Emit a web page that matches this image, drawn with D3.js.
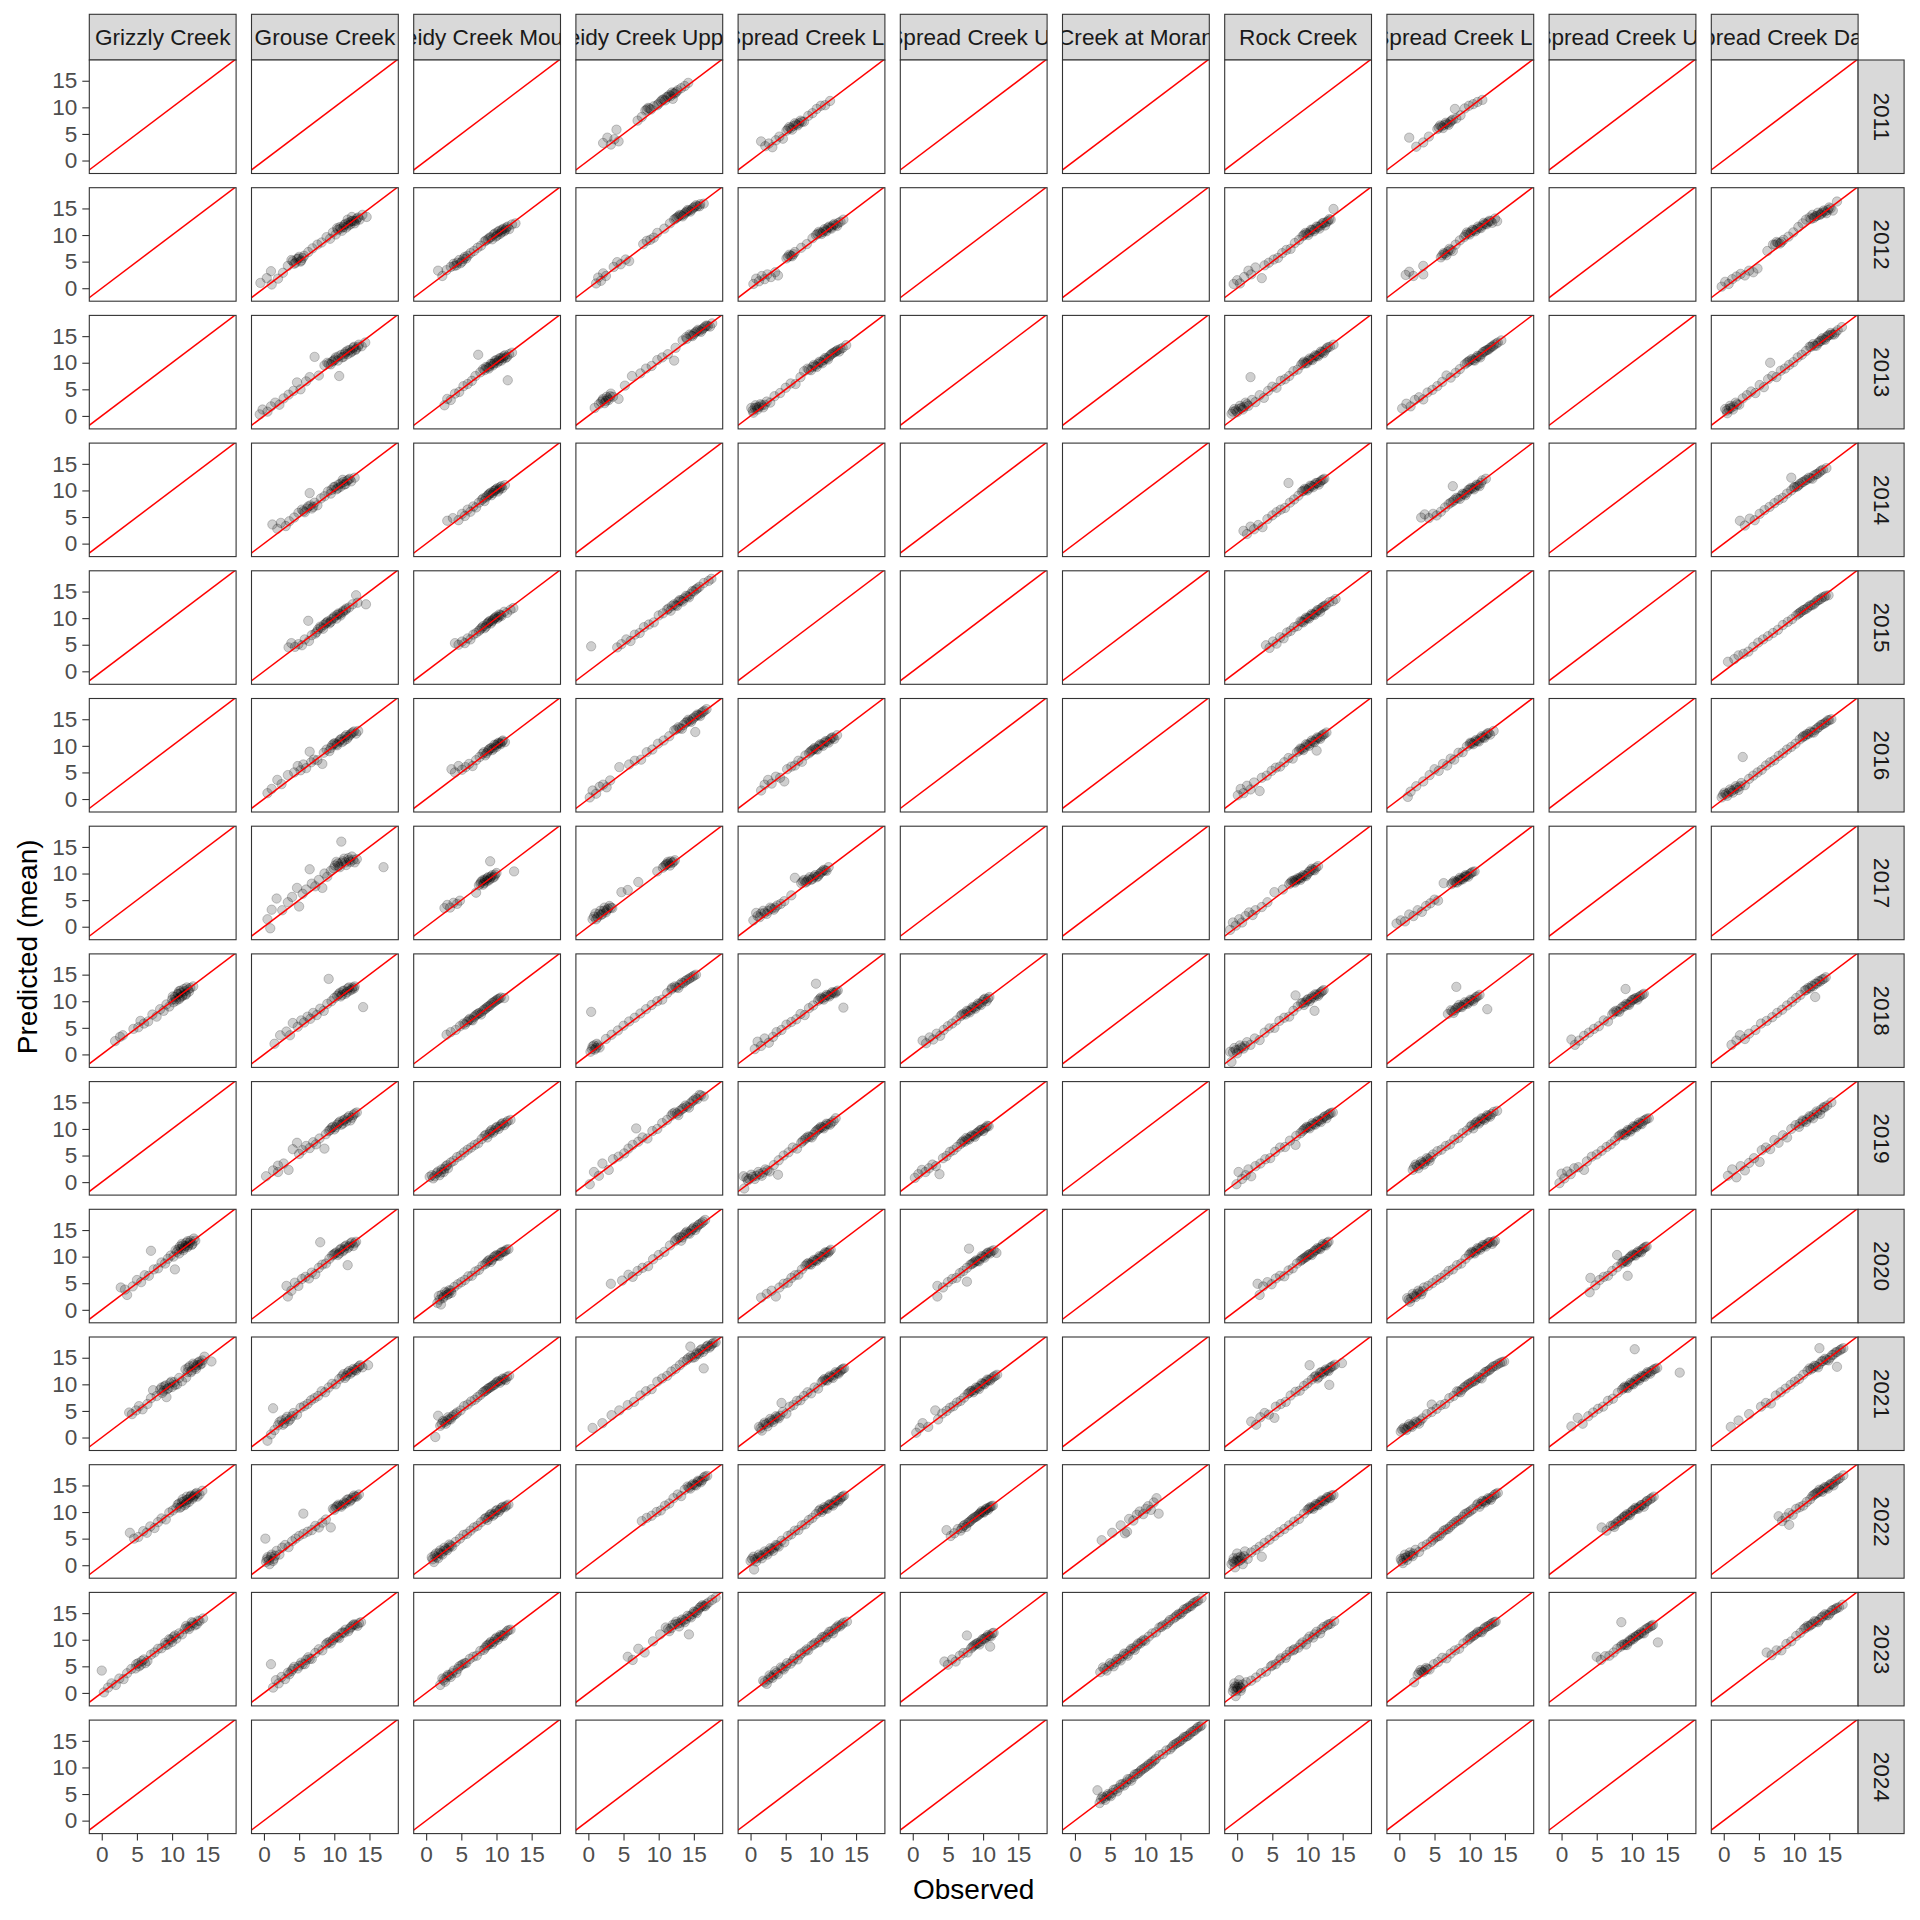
<!DOCTYPE html>
<html><head><meta charset="utf-8">
<script src="https://cdn.jsdelivr.net/npm/d3@7"></script>
<style>body{margin:0;background:#fff}svg text{font-family:"Liberation Sans",Arial,sans-serif}</style>
</head><body><svg id="chart" width="1920" height="1920"></svg>
<script>
const sites = ["Grizzly Creek","Grouse Creek","Leidy Creek Mouth","Leidy Creek Upper","NF Spread Creek Lower","NF Spread Creek Upper","Creek at Moran","Rock Creek","SF Spread Creek Lower","SF Spread Creek Upper","Spread Creek Dam"];
const years = [2011,2012,2013,2014,2015,2016,2017,2018,2019,2020,2021,2022,2023,2024];
const xTicks = [0,5,10,15];
const yTicks = [0,5,10,15];
const xTitle = "Observed";
const yTitle = "Predicted (mean)";

// observed,predicted pairs per site and year
const grizzlyCreek = {
2018:"1.9,2.5 2.6,3.3 3.0,3.6 4.5,4.8 5.2,5.1 5.5,6.3 6.0,5.8 6.6,6.2 7.2,7.5 7.8,7.1 8.3,8.5 8.8,8.2 9.2,9.4 9.6,9.0 10.0,10.3 10.4,10.8 10.6,10.1 10.9,11.3 11.1,10.7 11.3,11.6 11.5,11.1 11.8,11.9 12.0,11.4 12.3,12.2 12.6,12.5 13.0,12.8 11.0,11.9 10.2,9.8",
2020:"2.7,4.2 3.3,3.8 3.6,2.8 4.4,4.4 5.0,5.6 5.6,5.2 6.1,6.5 6.7,6.4 7.0,11.1 7.4,7.6 8.0,7.8 8.5,8.9 9.0,8.7 9.4,9.6 9.8,10.2 10.2,10.0 10.4,7.6 10.7,10.9 11.0,10.6 11.3,11.5 11.6,11.2 11.9,12.0 12.2,11.8 12.5,12.6 12.9,12.4 13.3,13.0 11.5,12.1 10.5,11.2",
2021:"3.9,4.7 4.3,4.4 4.9,5.1 5.3,5.9 5.8,5.3 6.5,6.3 7.0,7.4 7.3,8.9 7.8,7.8 8.3,9.0 8.6,8.4 8.9,9.6 9.2,7.6 9.3,9.1 9.7,10.2 10.0,9.5 10.3,10.4 10.7,10.0 11.0,11.2 11.4,10.6 11.9,12.8 12.2,12.3 12.5,13.4 12.8,12.6 13.1,13.6 13.4,12.9 13.7,14.1 14.0,13.7 14.3,14.5 14.6,15.2 15.6,14.3 12.0,11.3",
2022:"4.0,6.1 4.6,5.0 5.2,5.3 5.9,6.4 6.4,6.1 6.9,7.3 7.5,7.0 8.0,8.1 8.5,8.8 9.1,8.6 9.6,9.9 10.1,10.3 10.6,10.8 11.0,11.6 11.3,11.0 11.7,12.0 12.0,11.6 12.3,12.4 12.6,12.9 12.9,12.5 13.2,13.1 13.5,13.6 13.9,13.3 14.3,14.0 11.5,12.4 12.1,12.9",
2023:"0.0,4.2 0.3,0.1 0.9,1.0 1.4,1.8 2.0,1.5 2.5,2.7 3.1,2.6 3.6,3.7 4.2,4.5 4.8,4.6 5.2,5.6 5.6,5.3 6.0,6.3 6.5,6.0 7.0,7.2 7.5,7.6 8.0,8.3 8.5,8.4 9.0,9.4 9.4,9.1 9.8,10.0 10.2,10.5 10.6,10.2 11.0,11.2 11.4,11.0 11.8,12.0 12.2,12.3 12.6,12.5 13.0,13.1 13.5,12.9 13.9,13.5 14.4,14.0"
};
const grizzlyCreekCore = {
2018:"10.1,10.9 10.5,10.4 10.8,11.4 11.0,10.4 11.2,12.0 11.4,10.9 11.7,12.3 11.9,11.2 12.1,12.6 12.4,11.8",
2020:"11.1,11.9 11.4,12.4 11.7,11.6 12.0,12.6 12.3,12.1 12.6,13.0 12.8,12.2 13.1,13.4 10.9,11.4 12.2,12.9",
2021:"8.5,9.4 8.8,8.8 9.1,9.8 9.5,9.3 9.9,10.5 10.4,9.9 12.3,13.1 12.7,12.3 13.0,13.9 13.3,13.2 13.6,13.6 13.9,14.3 14.2,13.9",
2022:"10.8,11.4 11.1,10.8 11.4,11.9 11.8,11.3 12.1,12.3 12.4,11.9 12.7,13.1 13.0,12.8 13.3,13.4 13.6,12.9",
2023:"4.9,5.4 5.3,5.0 5.7,6.0 6.2,5.6 9.1,9.0 9.6,10.1 10.0,9.6 10.4,10.8 12.0,12.6 12.4,12.0 12.8,13.3 13.2,12.7 13.7,13.6"
};
const grouseCreek = {
2012:"-0.5,1.0 0.4,1.9 1.0,3.2 1.1,0.7 2.0,1.8 2.7,2.9 3.4,4.2 3.9,5.3 4.3,4.6 4.7,5.5 5.0,5.9 5.3,5.2 5.7,6.1 6.3,6.8 6.9,7.5 7.6,8.2 8.2,8.6 8.9,9.6 9.4,9.3 9.8,10.5 10.2,10.1 10.5,11.0 10.8,11.5 11.1,10.8 11.4,11.9 11.7,11.4 12.0,12.3 12.3,12.0 12.6,12.7 12.9,12.2 13.2,13.1 13.6,12.9 14.0,13.8 14.6,13.4 11.9,12.9 12.5,13.4",
2013:"-0.6,0.3 -0.2,1.2 0.5,0.8 1.0,1.8 1.6,2.5 2.2,2.1 2.8,3.3 3.5,4.0 4.2,4.7 4.7,6.3 5.2,5.0 6.0,6.5 6.5,7.3 7.2,11.1 7.8,7.6 8.6,9.5 9.0,10.0 9.5,9.7 9.9,10.4 10.2,11.0 10.5,10.4 10.7,7.5 11.0,11.5 11.3,11.1 11.6,12.0 11.9,11.6 12.2,12.4 12.5,12.1 12.8,13.0 13.1,12.6 13.5,13.4 13.9,13.1 14.4,13.8",
2014:"1.2,3.6 1.9,2.8 2.4,3.9 3.1,3.3 3.6,4.2 4.3,4.9 4.9,5.8 5.4,6.4 5.8,5.9 6.3,7.0 6.5,9.5 6.8,6.6 7.2,7.7 7.6,7.2 8.1,8.5 8.6,8.9 9.1,9.8 9.5,9.4 9.9,10.6 10.3,10.2 10.6,11.1 10.9,10.7 11.3,11.6 11.6,11.2 12.0,12.0 12.4,11.7 12.9,12.4 11.2,12.0",
2015:"3.5,4.5 3.9,5.3 4.4,4.6 4.9,5.1 5.4,4.9 5.8,6.0 6.3,9.5 6.4,5.7 6.8,6.8 7.3,7.1 7.7,7.9 8.1,8.2 8.5,8.7 8.9,9.2 9.3,9.0 9.6,9.8 10.0,10.3 10.3,9.9 10.6,10.9 10.9,10.5 11.3,11.4 11.7,11.8 12.1,12.0 12.6,12.6 13.1,14.3 13.3,12.9 14.5,12.6",
2016:"0.5,1.1 1.1,1.9 1.9,3.6 2.5,2.8 3.4,4.5 4.3,5.0 4.8,6.2 5.2,5.4 5.6,6.5 6.0,5.8 6.5,8.9 6.7,6.9 7.1,7.4 7.6,7.3 8.3,6.6 8.5,8.7 8.9,9.3 9.3,9.0 9.7,10.1 10.1,10.5 10.4,10.1 10.8,11.1 11.1,10.7 11.5,11.7 11.8,11.3 12.2,12.0 12.6,12.5 13.1,12.3 13.4,12.8",
2017:"0.5,1.4 0.9,-0.3 1.1,3.2 1.8,5.3 2.6,3.1 3.4,4.6 4.0,5.6 4.7,7.3 5.0,3.8 5.5,6.2 6.0,7.0 6.5,10.8 6.8,8.1 7.3,7.6 7.8,8.8 8.3,7.3 8.6,10.0 9.0,9.4 9.5,10.5 9.9,11.0 10.3,12.2 10.6,11.4 11.0,16.0 11.0,12.0 11.4,12.8 11.7,11.6 12.1,12.5 12.5,13.2 12.9,12.1 13.2,12.7 17.0,11.2",
2018:"1.5,2.0 2.3,3.6 3.2,4.3 3.7,3.6 4.1,5.9 4.8,5.2 5.3,6.4 5.7,6.0 6.2,7.1 6.6,6.7 7.0,7.8 7.5,7.4 8.0,8.6 8.5,8.2 9.0,9.5 9.2,14.2 9.6,10.0 10.0,10.6 10.4,11.0 10.8,11.6 11.1,11.2 11.4,12.0 11.8,11.7 12.1,12.6 12.5,12.2 12.9,12.8 14.1,8.9",
2019:"0.3,1.1 1.3,2.2 2.0,1.9 2.0,3.1 2.8,3.5 3.5,2.3 4.1,6.2 4.7,7.4 5.0,5.3 5.5,6.0 6.0,6.8 6.5,6.4 7.0,7.5 7.4,7.1 7.9,8.2 8.6,6.3 8.8,9.0 9.2,9.6 9.6,10.2 10.0,9.9 10.4,10.8 10.8,11.4 11.2,11.0 11.5,11.8 11.9,12.1 12.3,11.6 12.7,12.6 13.2,13.1",
2020:"3.2,4.5 3.4,2.5 3.9,3.6 4.4,5.1 4.9,4.5 5.4,5.8 5.9,6.2 6.4,5.9 6.8,7.0 7.3,6.7 7.8,7.9 8.0,12.7 8.3,8.5 8.8,8.7 9.3,9.6 9.7,10.2 10.1,10.6 10.5,10.3 10.8,11.3 11.2,11.0 11.5,11.9 11.9,8.4 11.9,11.6 12.3,12.5 12.7,12.0 13.1,12.8",
2021:"0.5,-0.6 1.0,0.6 1.3,5.5 1.5,1.4 2.0,2.3 2.5,3.2 2.9,2.7 3.3,3.9 3.7,3.4 4.2,4.6 4.7,4.3 5.2,5.6 5.7,5.9 6.2,6.3 6.7,7.0 7.2,7.4 7.7,7.8 8.2,8.7 8.7,8.5 9.2,9.4 9.7,10.1 10.2,10.0 10.7,11.0 11.1,11.5 11.5,11.2 11.9,12.2 12.3,12.0 12.7,12.9 13.1,12.6 13.5,13.4 14.0,13.2 14.8,13.6",
2022:"0.2,5.0 0.3,0.6 0.5,1.5 0.8,0.2 1.1,2.0 1.4,1.2 1.8,2.7 2.2,2.0 2.6,3.3 3.0,3.8 3.5,3.4 4.0,4.5 4.5,5.0 5.0,5.5 5.6,9.7 5.6,5.9 6.2,6.3 6.8,6.6 7.3,7.4 7.8,7.1 8.3,8.0 8.8,8.6 9.5,7.1 9.8,10.6 10.2,10.9 10.6,11.4 11.0,11.0 11.4,11.8 11.8,12.3 12.2,12.0 12.6,12.7 13.0,12.9 13.5,13.3",
2023:"1.0,5.4 1.3,1.0 1.7,2.4 2.1,1.8 2.5,3.0 3.0,2.6 3.4,3.8 3.9,4.1 4.3,4.9 4.8,4.6 5.3,5.7 5.8,5.4 6.3,6.7 6.8,6.4 7.3,7.5 7.8,8.2 8.3,8.0 8.8,9.1 9.3,9.6 9.8,9.9 10.3,10.6 10.7,10.3 11.2,11.4 11.6,11.9 12.0,11.6 12.4,12.4 12.8,12.9 13.3,12.6 13.8,13.3"
};
const grouseCreekCore = {
2012:"4.1,5.1 4.5,4.8 4.9,5.6 5.2,5.0 5.5,5.7 10.4,11.3 10.9,11.2 11.3,11.5 11.6,12.1 12.0,11.8 12.4,12.6 12.8,12.6 13.1,12.7 13.4,13.3",
2013:"9.2,9.8 9.7,10.2 10.1,10.6 10.6,11.2 11.1,11.0 11.5,11.7 11.9,12.3 12.3,11.9 12.7,12.8 13.0,12.4 13.4,13.0",
2014:"5.6,6.1 6.1,6.6 6.6,7.2 7.0,6.9 9.6,10.1 10.1,10.7 10.5,10.4 10.9,11.3 11.4,11.1 11.8,11.8 12.2,12.2",
2015:"7.5,7.4 8.0,8.4 8.4,8.0 8.8,9.0 9.1,9.4 9.5,9.3 9.9,10.0 10.4,10.6 10.8,10.8 11.2,11.1 11.6,11.5",
2016:"9.5,9.6 9.9,10.4 10.3,10.3 10.7,10.8 11.0,11.3 11.4,11.0 11.7,12.0 12.0,11.7 12.4,12.3 12.8,12.7",
2017:"10.1,11.5 10.5,11.9 10.8,11.2 11.2,12.3 11.6,12.1 12.0,12.9 12.3,12.2 12.7,12.6",
2018:"10.6,11.3 10.9,10.9 11.2,11.9 11.6,11.4 11.9,12.4 12.2,12.0 12.6,12.6 12.8,12.4",
2019:"9.4,9.8 9.8,10.4 10.2,10.3 10.6,11.1 11.0,10.8 11.3,11.6 11.7,11.4 12.1,12.4 12.5,12.1 12.9,12.9",
2020:"9.9,10.4 10.3,10.8 10.7,10.6 11.0,11.5 11.4,11.3 11.7,12.1 12.1,11.9 12.5,12.7 12.9,12.5",
2021:"2.2,2.9 2.7,2.4 3.1,3.5 3.5,3.1 4.0,4.0 11.3,11.9 11.7,11.6 12.1,12.5 12.5,12.3 12.9,12.7 13.3,13.1 13.7,13.6",
2022:"0.4,1.1 0.7,0.9 1.0,1.6 1.3,0.8 1.6,1.8 10.0,10.4 10.4,11.1 10.8,11.2 11.2,11.4 11.6,11.6 12.0,12.4 12.4,12.3 12.8,13.1 13.2,12.9",
2023:"3.6,3.5 4.1,4.5 5.0,5.1 5.5,5.4 6.0,6.2 6.5,6.4 9.0,9.4 9.5,9.3 10.0,10.3 10.5,10.5 11.0,11.2 11.4,11.3 12.2,12.1 12.6,12.7 13.0,12.8 13.5,13.1"
};
const leidyCreekMouth = {
2012:"1.7,3.3 2.3,2.3 2.9,3.4 3.5,4.0 3.9,4.6 4.3,4.3 4.7,5.3 5.1,5.0 5.5,5.9 5.9,6.1 6.3,6.6 6.8,7.0 7.3,7.6 7.8,8.0 8.3,8.8 8.8,9.2 9.2,9.6 9.6,10.1 9.9,9.7 10.2,10.6 10.5,10.2 10.8,11.0 11.1,10.7 11.4,11.4 11.8,11.1 12.2,12.0 12.7,12.2",
2013:"2.6,2.0 3.0,3.2 3.5,3.0 4.1,4.2 4.7,4.5 5.3,5.6 5.9,6.0 6.5,6.6 7.0,7.5 7.4,11.5 7.7,8.2 8.1,8.8 8.5,9.2 8.9,8.9 9.2,9.8 9.5,9.5 9.8,10.4 10.1,10.0 10.4,10.8 10.7,10.4 11.0,11.2 11.3,10.9 11.6,6.7 11.8,11.6 12.2,11.9",
2014:"3.0,4.3 3.8,4.8 4.6,4.4 5.1,5.6 5.5,5.2 5.9,6.4 6.3,6.0 6.7,7.0 7.1,6.8 7.5,7.7 7.9,8.2 8.3,8.0 8.7,9.0 9.0,9.4 9.3,9.1 9.6,9.9 9.9,10.2 10.2,9.8 10.5,10.6 10.8,10.4 11.2,11.0",
2015:"4.1,5.3 4.6,5.0 5.1,5.6 5.5,5.3 5.9,6.2 6.3,6.0 6.7,6.9 7.1,7.2 7.5,7.6 7.9,8.2 8.3,8.1 8.6,8.9 8.9,9.3 9.2,9.0 9.5,9.7 9.8,10.1 10.1,9.9 10.4,10.7 10.7,10.4 11.1,11.2 11.5,11.0 12.0,11.6 12.4,11.9",
2016:"3.6,5.6 4.1,5.0 4.6,6.2 5.1,5.5 5.6,6.0 6.1,6.6 6.6,6.2 7.1,7.3 7.6,7.9 8.0,8.5 8.4,8.2 8.8,9.0 9.1,9.5 9.4,9.2 9.7,10.2 10.0,9.8 10.3,10.6 10.6,10.3 10.9,11.0 11.2,10.7",
2017:"2.6,3.5 3.0,4.1 3.4,3.6 3.9,4.5 4.4,4.3 4.8,4.9 7.1,6.4 7.5,7.8 7.8,8.4 8.1,7.9 8.3,8.9 8.6,8.5 8.8,9.3 9.1,12.3 9.1,9.0 9.4,9.7 9.7,9.4 10.0,10.1 12.5,10.4",
2018:"2.9,3.7 3.5,4.2 4.2,4.6 4.8,5.3 5.3,5.8 5.8,6.1 6.2,6.7 6.6,6.4 7.0,7.3 7.4,7.7 7.8,7.5 8.2,8.4 8.6,8.8 9.0,9.1 9.4,9.7 9.8,10.0 10.2,10.4 10.6,10.7 11.1,10.6",
2019:"0.5,1.0 1.0,0.7 1.5,1.7 1.9,1.3 2.2,2.4 2.5,1.9 2.8,3.0 3.1,2.6 3.5,3.7 3.9,4.0 4.4,4.7 4.9,5.0 5.4,5.6 5.9,6.1 6.4,6.5 6.9,7.0 7.4,7.3 7.9,8.1 8.3,8.7 8.7,8.4 9.1,9.5 9.5,9.3 9.9,10.2 10.3,10.0 10.7,10.9 11.1,10.7 11.6,11.5 12.0,11.7",
2020:"1.6,1.3 1.8,2.6 2.1,1.0 2.4,2.2 2.7,3.4 3.0,2.8 3.3,3.7 3.6,3.2 4.0,4.3 4.5,4.8 5.0,5.2 5.5,5.6 6.0,6.3 6.5,6.4 7.0,7.2 7.5,7.5 8.0,8.3 8.4,8.6 8.8,9.2 9.2,9.0 9.6,9.9 10.0,10.3 10.4,10.1 10.8,10.9 11.2,11.0 11.7,11.4",
2021:"1.3,0.1 1.7,4.1 2.0,2.2 2.4,3.1 2.8,2.6 3.1,3.8 3.5,3.4 3.9,4.2 4.4,4.7 4.9,5.1 5.4,5.9 5.9,6.2 6.4,6.8 6.9,7.1 7.3,7.6 7.7,8.0 8.1,8.5 8.5,8.8 8.9,9.3 9.3,9.6 9.7,9.9 10.1,10.5 10.5,10.3 10.9,11.1 11.3,10.8 11.8,11.6",
2022:"0.8,1.5 1.1,0.6 1.4,2.2 1.7,1.3 2.0,2.8 2.3,2.0 2.6,3.3 3.0,2.8 3.3,3.9 3.7,3.5 4.2,4.4 4.8,5.0 5.3,5.7 5.8,5.9 6.3,6.5 6.8,7.1 7.3,7.4 7.8,8.1 8.3,8.7 8.7,8.5 9.1,9.5 9.5,9.3 9.9,10.2 10.3,10.0 10.7,10.8 11.2,10.9 11.7,11.4",
2023:"2.0,1.5 2.3,2.7 2.7,2.1 3.1,3.4 3.5,3.0 3.9,4.2 4.3,3.8 4.7,5.0 5.2,5.4 5.7,5.6 6.2,6.4 6.7,6.8 7.2,7.0 7.7,7.9 8.2,8.1 8.6,8.9 9.0,9.3 9.4,9.2 9.8,10.1 10.2,10.0 10.6,10.9 11.0,10.7 11.5,11.6 12.0,11.9"
};
const leidyCreekMouthCore = {
2012:"4.0,4.2 4.4,4.8 4.9,4.7 5.3,5.5 5.7,5.6 8.5,9.0 9.0,9.5 9.4,9.2 9.8,10.3 10.1,9.9 10.4,10.8 10.7,10.5 11.0,11.2 11.3,11.0 11.6,11.6",
2013:"8.3,8.6 8.7,9.1 9.0,9.3 9.4,9.8 9.7,9.9 10.0,10.5 10.3,10.3 10.6,10.9 10.9,10.8 11.2,11.4 11.5,11.1",
2014:"8.1,8.5 8.5,8.7 8.9,9.2 9.2,9.6 9.5,9.5 9.8,10.0 10.1,10.4 10.4,10.2 10.7,10.8",
2015:"7.7,7.9 8.1,8.5 8.5,8.4 8.8,9.1 9.1,9.5 9.4,9.4 9.7,9.9 10.0,10.3 10.3,10.2 10.6,10.6",
2016:"8.2,8.8 8.6,8.6 8.9,9.3 9.3,9.6 9.6,9.5 9.9,10.1 10.2,10.4 10.5,10.5 10.8,10.8",
2017:"7.7,8.1 8.0,8.7 8.2,8.2 8.4,8.7 8.7,9.1 8.9,8.7 9.2,9.4 9.5,9.2 9.8,9.8",
2018:"5.5,5.6 6.0,6.4 6.4,6.5 6.8,7.0 7.2,7.5 7.6,7.8 8.0,8.1 8.4,8.5 8.8,9.0 9.2,9.4 9.6,9.8 10.0,10.2 10.4,10.5",
2019:"0.8,1.3 1.2,1.1 1.7,2.0 2.1,1.8 2.6,2.5 3.0,3.2 8.5,8.9 9.0,9.1 9.3,9.8 9.7,9.7 10.1,10.4 10.5,10.5 10.9,11.1 11.4,11.2",
2020:"1.9,1.9 2.2,2.8 2.5,2.5 2.9,3.2 3.2,3.0 3.5,3.6 8.6,8.9 9.0,9.4 9.4,9.4 9.8,10.1 10.2,10.2 10.6,10.7 11.0,10.9 11.4,11.3",
2021:"2.2,2.6 2.6,2.9 3.0,3.2 3.3,3.5 3.7,3.9 4.2,4.4 8.3,8.7 8.7,9.1 9.1,9.4 9.5,9.8 9.9,10.2 10.3,10.6 10.7,10.7 11.1,11.0 11.5,11.4",
2022:"0.9,1.1 1.2,1.8 1.5,1.5 1.8,2.3 2.1,2.2 2.5,2.7 2.8,3.0 3.2,3.3 3.5,3.7 8.5,8.9 8.9,9.1 9.3,9.7 9.7,9.6 10.1,10.4 10.5,10.4 10.9,11.0 11.4,11.2",
2023:"2.5,2.4 2.9,3.0 3.3,3.3 3.7,3.7 4.5,4.5 5.0,5.2 5.5,5.6 8.4,8.5 8.8,9.0 9.2,9.6 9.6,9.6 10.0,10.4 10.4,10.5 10.8,10.8 11.2,11.2 11.7,11.8"
};
const leidyCreekUpper = {
2011:"2.1,3.3 2.7,4.3 3.2,3.0 3.7,4.0 4.0,5.8 4.3,3.6 7.0,7.5 7.6,8.2 8.1,9.4 8.5,9.9 8.9,9.6 9.3,10.2 9.8,10.4 10.3,11.1 10.7,11.5 11.1,11.9 11.5,12.3 11.9,12.8 12.3,12.6 12.7,13.2 13.2,13.6 13.7,14.0 14.2,14.6 12.0,11.6",
2012:"1.1,0.9 1.4,2.0 1.8,1.4 2.1,2.8 2.5,2.3 3.6,4.0 4.1,4.9 4.6,4.5 5.3,5.4 5.8,5.1 7.8,8.3 8.3,8.9 8.8,9.1 9.3,9.5 9.8,10.4 10.8,11.2 11.6,12.2 12.2,12.9 12.6,13.3 13.0,13.8 13.4,13.5 13.8,14.2 14.1,14.7 14.5,14.4 14.9,15.1 15.3,15.6 15.8,15.4 16.4,15.9",
2013:"0.9,1.5 1.5,2.2 2.0,2.9 2.3,2.4 2.6,3.6 2.9,3.0 3.2,4.2 3.5,3.6 4.3,3.2 5.2,5.7 6.2,7.5 7.4,8.0 8.2,8.9 9.0,9.4 9.8,10.5 10.5,11.0 11.3,11.6 12.2,10.4 12.4,12.8 13.4,14.2 13.9,14.8 14.4,15.3 14.8,15.0 15.2,15.7 15.6,16.2 16.0,15.8 16.4,16.5 16.8,17.0 17.3,16.8 17.6,17.4",
2015:"0.4,4.7 4.1,4.5 4.7,5.1 5.4,6.0 6.0,5.7 6.6,6.9 7.3,7.2 7.9,8.3 8.6,8.8 9.3,9.2 10.0,10.5 10.6,10.9 11.2,11.6 11.7,11.4 12.2,12.6 12.6,12.3 13.0,13.4 13.4,13.1 13.9,14.2 14.3,13.9 14.8,15.1 15.3,15.4 15.8,15.9 16.4,16.6 17.1,17.0 17.5,17.4",
2016:"0.2,0.3 0.6,1.6 1.1,1.0 1.6,2.3 2.1,2.7 2.6,2.2 3.1,3.5 4.4,6.0 5.8,6.5 6.6,7.2 7.5,7.4 8.3,8.8 9.1,9.3 9.9,10.4 10.7,11.0 11.5,11.8 12.2,12.9 12.8,13.5 13.3,13.2 13.8,14.3 14.2,14.9 14.6,14.5 15.0,15.3 15.2,12.6 15.5,15.9 15.9,15.6 16.3,16.4 16.8,16.9",
2017:"0.6,1.4 1.0,2.5 1.3,1.8 1.7,3.0 2.0,2.4 2.3,3.6 2.6,3.1 3.0,3.9 3.4,3.5 4.7,6.5 5.6,6.9 7.1,8.4 9.8,10.4 10.6,11.1 11.0,11.6 11.3,12.2 11.6,11.5 11.9,12.0 12.3,12.5",
2018:"0.4,8.0 0.3,0.5 0.6,1.5 0.9,0.9 1.2,2.0 1.6,1.3 2.5,2.9 3.3,3.7 4.2,4.5 5.0,5.4 5.8,6.2 6.6,6.9 7.4,7.7 8.2,8.5 9.0,9.3 9.8,10.0 10.5,10.3 11.2,11.5 11.8,12.2 12.3,12.8 12.8,12.5 13.3,13.5 13.8,13.8 14.3,14.2 14.8,14.6 15.3,15.0",
2019:"0.2,-0.4 0.8,1.9 1.5,1.2 2.0,3.5 2.9,2.3 3.5,4.3 4.3,4.8 5.1,5.4 5.7,6.3 6.3,7.0 6.8,10.1 7.1,7.6 7.7,8.4 8.4,8.2 9.1,9.6 9.8,10.0 10.5,11.1 11.2,11.7 11.8,12.5 12.3,13.1 12.8,12.6 13.3,13.7 13.8,14.4 14.3,14.0 14.8,15.2 15.3,15.8 15.8,16.4 16.4,16.1",
2020:"3.2,4.9 4.8,5.5 5.7,6.6 6.3,6.2 7.0,7.3 7.7,7.9 8.5,8.2 9.2,9.5 10.0,10.3 10.8,10.9 11.6,12.1 12.3,12.9 12.8,13.5 13.2,13.0 13.6,14.1 14.0,14.7 14.4,14.3 14.8,15.2 15.2,15.0 15.6,15.9 16.1,16.3 16.6,16.9",
2021:"0.6,1.8 2.0,2.7 3.3,4.2 4.4,5.1 5.6,6.1 6.5,6.7 7.4,7.9 8.2,8.7 9.0,9.1 9.8,10.5 10.5,11.1 11.2,11.6 11.8,12.4 12.4,12.9 13.0,13.6 13.5,14.2 14.0,14.6 14.5,17.1 14.6,15.3 15.1,15.1 15.5,15.9 15.9,16.4 16.3,16.1 16.4,13.0 16.8,17.1 17.2,16.9 17.6,17.6 18.1,17.9",
2022:"7.6,8.3 8.3,8.9 9.0,9.3 9.7,10.0 10.3,10.3 10.9,11.2 11.5,11.6 12.1,12.6 12.7,13.3 13.2,13.0 13.7,14.2 14.1,14.8 14.5,14.4 14.9,15.3 15.3,15.0 15.6,15.9 16.0,15.6 16.4,16.5 16.9,16.8",
2023:"5.6,6.8 6.3,6.2 7.1,8.3 8.0,7.6 9.2,9.7 10.2,11.0 11.0,12.3 11.5,11.6 12.0,12.8 12.5,13.4 12.9,12.5 13.3,13.8 13.7,13.3 14.1,14.5 14.3,11.0 14.6,14.2 15.0,15.3 15.4,15.0 15.8,16.0 16.2,16.5 16.6,16.3 17.1,17.0 17.6,17.5 18.1,17.9"
};
const leidyCreekUpperCore = {
2011:"10.0,10.7 10.5,11.4 10.9,11.3 11.3,12.0 11.7,12.1 12.1,12.6 12.5,12.9 8.3,9.6 8.7,9.8",
2012:"12.4,13.1 12.8,13.5 13.2,13.7 13.6,13.9 14.0,14.4 14.3,14.6 14.7,14.8 15.1,15.3 15.5,15.4 15.9,15.8",
2013:"1.8,2.6 2.1,3.2 2.5,2.8 2.8,3.3 3.1,3.7 14.0,14.5 14.6,15.1 15.0,15.4 15.4,15.9 15.8,16.0 16.2,16.3 16.6,16.8 17.0,16.9",
2015:"11.4,11.8 11.9,12.3 12.4,12.4 12.8,13.1 13.2,13.3 13.6,13.7 14.1,14.1 14.5,14.5 15.0,15.0 15.5,15.6",
2016:"12.5,13.1 13.0,13.3 13.5,13.9 14.0,14.5 14.4,14.7 14.8,15.0 15.3,15.6 15.7,15.8 16.1,16.2 16.5,16.6",
2017:"0.8,1.9 1.1,1.4 1.5,2.4 1.8,2.2 2.2,3.0 2.5,2.7 2.8,3.4 3.2,3.6 10.8,11.4 11.1,11.8 11.4,11.9 11.7,12.3 12.1,12.2",
2018:"0.5,1.0 0.8,1.7 1.1,1.2 1.4,1.7 11.9,12.5 12.5,12.6 13.0,13.1 13.5,13.4 14.0,14.0 14.5,14.4 15.0,14.8",
2019:"12.0,12.9 12.6,12.9 13.0,13.4 13.5,13.9 14.0,14.2 14.5,14.8 15.0,15.4 15.5,15.6 16.0,16.3",
2020:"12.5,13.2 13.0,13.7 13.4,13.6 13.8,14.4 14.2,14.4 14.6,14.9 15.0,15.5 15.4,15.5 15.8,16.1 16.3,16.6",
2021:"14.2,14.9 14.8,15.0 15.3,15.6 15.7,15.7 16.1,16.6 16.6,16.6 17.0,17.3 17.4,17.2 17.8,17.8",
2022:"14.3,14.6 14.7,15.0 15.1,15.1 15.5,15.6 15.8,15.8 16.2,16.0 16.6,16.7",
2023:"11.3,12.0 11.8,12.2 12.3,12.9 12.7,13.0 13.1,13.2 13.5,13.6 13.9,13.9 14.4,14.4 14.8,14.8 15.2,15.2 15.6,15.6 16.0,16.2 16.4,16.3 16.8,16.7"
};
const nfSpreadLower = {
2011:"1.5,3.6 2.1,2.7 2.6,3.2 3.1,2.5 3.6,3.8 4.1,4.5 4.6,4.1 5.1,5.6 5.5,6.3 5.9,5.8 6.3,7.0 6.7,6.6 7.1,7.5 7.6,7.3 8.2,8.4 8.8,8.9 9.4,9.7 10.0,10.3 10.6,10.4 11.3,11.2",
2012:"0.4,0.8 0.8,1.8 1.2,1.3 1.6,2.3 2.0,1.7 2.4,2.6 2.9,2.1 3.5,3.0 3.9,2.4 5.1,5.6 5.5,6.3 5.9,6.0 6.3,6.8 7.2,7.6 8.0,8.3 8.8,9.4 9.3,10.0 9.7,10.6 10.1,10.2 10.5,11.1 10.8,10.7 11.2,11.6 11.5,11.2 11.9,12.1 12.3,11.7 12.8,12.5 13.2,12.9",
2013:"0.1,1.5 0.4,0.6 0.7,2.0 1.0,1.2 1.4,2.2 1.8,1.6 2.3,2.7 2.8,2.5 3.4,3.7 4.2,4.3 5.0,5.3 5.7,6.1 6.4,6.0 7.1,7.3 7.6,8.4 8.1,8.9 8.6,8.6 9.0,9.6 9.4,9.2 9.8,10.2 10.2,9.9 10.6,10.9 11.0,10.6 11.4,11.5 11.8,11.9 12.2,12.2 12.6,12.1 13.1,12.8 13.6,13.3",
2016:"1.5,1.6 2.0,2.7 2.5,3.6 3.0,2.9 3.6,4.2 4.2,4.0 4.8,3.3 5.2,5.6 5.8,6.1 6.3,6.3 6.8,7.2 7.3,7.0 7.8,8.2 8.3,8.6 8.7,9.1 9.1,9.6 9.5,9.3 9.9,10.3 10.3,10.0 10.7,10.9 11.1,10.6 11.5,11.5 11.9,11.3 12.3,12.0",
2017:"0.4,1.2 0.8,2.6 1.3,1.8 1.8,3.0 2.3,2.4 2.8,3.6 3.3,3.2 3.8,4.0 4.3,4.3 4.8,4.8 5.8,5.9 6.3,9.2 7.2,8.2 7.6,8.8 8.0,8.5 8.4,9.3 8.8,9.0 9.2,9.7 9.6,9.5 10.0,10.2 10.4,10.7 10.8,10.5 11.1,11.2",
2018:"0.6,1.0 1.0,2.4 1.5,1.6 2.0,3.0 2.6,2.2 3.2,3.3 3.7,4.2 4.4,4.6 5.1,5.6 5.8,6.1 6.5,6.6 7.1,7.6 7.7,7.4 8.3,8.7 8.9,9.2 9.3,13.3 9.6,10.1 10.0,10.7 10.4,10.3 10.8,11.2 11.2,10.9 11.6,11.7 12.0,11.5 12.4,12.0 13.2,8.8",
2019:"-1.0,1.1 -0.9,-1.2 -0.4,0.3 0.1,1.4 0.6,0.6 1.1,1.9 1.6,1.2 2.1,2.4 2.7,2.0 3.3,3.2 3.9,1.4 4.0,4.1 4.7,5.0 5.4,5.6 6.0,6.5 6.6,6.3 7.2,7.4 7.7,8.0 8.2,8.6 8.7,8.4 9.2,9.4 9.6,9.9 10.0,10.4 10.4,10.1 10.8,11.0 11.3,10.8 11.8,11.5 12.1,12.0",
2020:"1.5,2.3 2.3,3.0 3.0,3.6 3.6,2.5 4.1,4.2 4.7,4.9 5.3,5.1 5.8,6.0 6.3,6.5 6.8,6.6 7.3,7.6 7.8,8.3 8.2,8.8 8.6,8.5 9.0,9.4 9.4,9.2 9.8,10.1 10.2,9.9 10.6,10.8 11.0,10.7 11.4,11.3",
2021:"1.2,2.0 1.6,1.3 2.0,2.8 2.4,2.1 2.8,3.5 3.2,2.9 3.6,4.0 4.0,3.6 4.4,6.5 4.6,4.8 5.1,4.5 5.6,5.8 6.1,6.1 6.6,6.9 7.1,7.0 7.6,7.8 8.1,8.5 8.6,8.3 9.1,9.4 9.6,9.2 10.1,10.4 10.5,11.0 10.9,10.7 11.3,11.6 11.7,11.2 12.1,12.3 12.5,12.0 12.9,12.7 13.3,13.0",
2022:"0.0,0.8 0.4,1.6 0.5,-0.8 0.8,0.7 1.2,2.0 1.6,1.3 2.0,2.6 2.4,2.0 2.8,3.2 3.2,2.7 3.6,3.8 4.0,3.5 4.4,4.6 4.8,4.3 5.3,5.5 5.8,5.8 6.3,6.5 6.8,6.6 7.3,7.5 7.8,7.7 8.3,8.5 8.8,8.9 9.3,9.6 9.7,10.2 10.1,10.0 10.5,10.9 10.9,10.6 11.3,11.5 11.7,11.2 12.1,12.2 12.5,12.0 12.9,12.8 13.3,13.1",
2023:"1.8,2.3 2.3,1.7 2.7,3.3 3.1,2.8 3.5,4.1 3.9,3.5 4.3,4.8 4.7,4.4 5.2,5.6 5.7,5.5 6.2,6.5 6.7,6.3 7.2,7.4 7.7,7.8 8.2,8.0 8.7,8.9 9.2,9.4 9.7,9.5 10.2,10.5 10.7,10.4 11.2,11.5 11.7,11.2 12.2,12.3 12.7,12.5 13.2,13.2 13.7,13.4"
};
const nfSpreadLowerCore = {
2011:"5.3,5.9 5.7,6.1 6.1,6.5 6.5,6.8 6.9,7.0 7.3,7.3",
2012:"5.3,5.9 5.7,6.1 6.1,6.4 9.5,10.2 9.9,10.4 10.3,10.6 10.7,10.9 11.0,11.4 11.4,11.4 11.7,11.8 12.1,11.9 12.5,12.3",
2013:"0.3,1.0 0.6,1.5 0.9,1.6 1.2,1.7 1.6,2.0 2.0,2.1 8.3,8.7 8.8,9.2 9.2,9.4 9.6,9.8 10.0,10.1 10.4,10.5 10.8,10.8 11.2,11.2 11.6,11.7 12.0,12.0 12.4,12.4 12.8,12.6",
2016:"8.5,8.9 8.9,9.3 9.3,9.4 9.7,10.0 10.1,10.2 10.5,10.6 10.9,10.8 11.3,11.2 11.7,11.6",
2017:"1.0,2.0 1.5,2.5 2.0,2.6 2.5,3.0 3.0,3.4 3.5,3.6 7.4,8.5 7.8,8.3 8.2,8.9 8.6,8.8 9.0,9.4 9.4,9.3 9.8,9.9 10.2,10.4 10.6,10.6",
2018:"9.8,10.4 10.2,10.5 10.6,10.8 11.0,11.1 11.4,11.3 11.8,11.6 12.2,11.8",
2019:"-0.6,0.8 -0.2,0.6 0.3,1.0 0.8,1.2 1.3,1.5 1.8,1.8 2.4,2.2 7.4,7.7 7.9,8.3 8.4,8.5 8.9,8.9 9.4,9.7 9.8,10.1 10.2,10.3 10.6,10.6 11.0,10.9 11.5,11.2",
2020:"8.0,8.6 8.4,8.6 8.8,9.0 9.2,9.3 9.6,9.6 10.0,10.0 10.4,10.4 10.8,10.8 11.2,11.0",
2021:"1.4,1.7 1.8,2.4 2.2,2.5 2.6,2.8 3.0,3.2 3.4,3.4 3.8,3.8 4.2,4.1 10.3,10.7 10.7,10.8 11.1,11.3 11.5,11.4 11.9,11.8 12.3,12.1 12.7,12.4 13.1,12.9",
2022:"0.2,1.2 0.6,1.1 1.0,1.4 1.4,1.7 1.8,2.0 2.2,2.3 2.6,2.6 3.0,3.0 3.4,3.3 3.8,3.7 9.9,10.5 10.3,10.4 10.7,10.7 11.1,11.3 11.5,11.4 11.9,11.7 12.3,12.2 12.7,12.4 13.1,12.9",
2023:"2.0,2.0 2.5,2.5 2.9,3.0 3.3,3.4 3.7,3.8 4.5,4.6 5.0,5.0 6.0,6.0 7.0,7.1 8.0,8.2 9.0,9.1 9.9,10.0 10.5,10.6 11.0,11.0 11.5,11.6 12.0,12.0 12.5,12.7 13.0,12.9"
};
const nfSpreadUpper = {
2018:"1.4,2.6 1.9,2.1 2.4,3.2 2.9,2.8 3.4,3.9 3.9,3.5 4.4,4.6 5.0,5.3 5.6,5.8 6.2,6.4 6.8,7.2 7.3,7.7 7.7,8.2 8.1,7.9 8.5,8.9 8.9,8.6 9.3,9.6 9.7,9.3 10.1,10.3 10.5,10.0 10.9,10.8",
2019:"0.3,0.8 0.8,1.5 1.3,2.3 1.8,1.9 2.3,2.6 2.8,3.3 3.3,3.0 3.8,1.5 4.3,4.5 4.8,4.9 5.3,5.7 5.8,6.0 6.3,6.6 6.8,7.2 7.2,7.8 7.6,8.3 8.0,8.0 8.4,8.8 8.8,8.5 9.2,9.3 9.6,9.8 10.0,9.6 10.4,10.3 10.8,10.5",
2020:"3.5,2.5 3.5,4.5 4.3,4.2 5.0,5.2 5.6,5.8 6.2,6.0 6.7,6.9 7.2,7.3 7.7,5.3 7.7,7.9 8.0,11.5 8.2,8.5 8.6,8.8 9.0,9.3 9.4,9.1 9.8,10.1 10.2,9.8 10.6,10.7 11.0,10.6 11.5,11.2 11.9,10.7",
2021:"0.5,0.9 1.0,1.8 1.4,2.7 2.2,2.0 3.2,5.1 3.6,3.4 4.2,4.5 4.8,5.0 5.3,5.6 5.8,5.9 6.3,6.6 6.8,6.9 7.3,7.5 7.8,8.2 8.2,8.7 8.6,8.5 9.0,9.4 9.4,9.1 9.8,10.2 10.2,10.0 10.6,10.9 11.0,10.7 11.5,11.4 12.0,11.8",
2022:"4.8,6.6 5.4,5.5 5.9,6.0 6.4,6.8 6.8,6.5 7.2,7.4 7.6,7.2 8.0,8.1 8.4,8.6 8.8,9.0 9.2,9.3 9.5,9.7 9.8,10.2 10.1,9.9 10.4,10.6 10.7,10.4 11.0,11.0 11.4,11.2",
2023:"4.5,5.9 5.0,5.3 5.6,6.3 6.1,5.9 6.7,7.0 7.2,7.5 7.7,10.8 7.8,7.6 8.3,8.4 8.7,8.9 9.1,9.3 9.5,9.1 9.9,10.1 10.3,10.3 10.7,10.9 11.0,8.7 11.1,10.6 11.5,11.3"
};
const nfSpreadUpperCore = {
2018:"7.0,7.5 7.5,7.5 7.9,8.1 8.3,8.4 8.7,8.8 9.1,9.1 9.5,9.5 9.9,9.9 10.3,10.5 10.7,10.5",
2019:"7.0,7.5 7.4,7.6 7.8,8.1 8.2,8.5 8.6,8.7 9.0,9.1 9.4,9.5 9.8,9.9 10.2,10.1 10.6,10.6",
2020:"8.4,8.6 8.8,9.0 9.2,9.2 9.6,9.6 10.0,10.0 10.4,10.4 10.8,10.8 11.2,11.0",
2021:"8.0,8.4 8.4,8.8 8.8,8.9 9.2,9.3 9.6,9.7 10.0,10.1 10.4,10.5 10.8,10.8 11.2,11.1 11.7,11.6",
2022:"7.0,7.0 7.4,7.6 7.8,7.9 8.2,8.3 8.6,8.8 9.0,9.1 9.4,9.5 9.7,9.9 10.0,10.0 10.3,10.3 10.6,10.7 10.9,10.8 11.2,11.1",
2023:"8.5,8.7 8.9,9.1 9.3,9.4 9.7,9.7 10.1,10.1 10.5,10.5 10.9,10.7 11.3,11.2"
};
const creekAtMoran = {
2022:"3.8,4.7 5.3,6.1 6.5,7.5 7.1,6.0 7.4,6.3 7.7,8.7 8.3,8.4 8.8,9.5 9.2,10.1 9.7,9.6 10.1,10.6 10.4,11.1 10.8,10.4 11.2,11.8 11.6,12.6 11.9,9.7",
2023:"3.6,3.9 4.0,4.8 4.5,4.2 5.0,5.6 5.5,5.0 6.0,6.4 6.5,6.1 7.0,7.4 7.5,7.0 8.0,8.3 8.5,8.1 9.0,9.3 9.5,9.7 10.0,9.8 10.5,10.6 11.0,11.2 11.5,11.4 12.0,12.3 12.5,12.7 13.0,12.9 13.5,13.7 14.0,14.0 14.5,14.6 15.0,14.8 15.5,15.7 16.0,16.0 16.5,16.3 17.0,17.0 17.5,17.3 18.0,17.8",
2024:"3.2,5.7 3.5,3.3 3.9,4.5 4.3,3.9 4.7,5.0 5.1,4.6 5.5,5.8 6.0,5.5 6.5,6.8 7.0,6.6 7.5,7.8 8.0,7.5 8.5,8.7 9.0,8.9 9.5,9.6 10.0,10.0 10.5,10.6 11.0,11.1 11.5,11.6 12.0,12.3 12.5,12.5 13.0,13.2 13.5,13.4 14.0,14.2 14.5,14.6 15.0,15.0 15.5,15.7 16.0,15.9 16.5,16.6 17.0,16.9 17.5,17.6 18.0,17.9"
};
const creekAtMoranCore = {
2023:"4.2,4.5 4.8,5.0 5.3,5.4 5.8,5.8 6.3,6.4 6.8,6.9 7.3,7.3 7.8,7.9 8.3,8.4 8.8,8.9 9.3,9.3 9.8,10.0 12.3,12.4 13.3,13.3 14.3,14.3 14.8,14.9 15.3,15.2 15.8,15.8 16.3,16.3 16.8,16.8 17.3,17.2",
2024:"3.7,4.0 4.1,4.2 4.5,4.6 4.9,4.8 5.3,5.2 5.8,5.9 6.3,6.2 6.8,6.9 7.3,7.2 7.8,7.8 8.3,8.2 8.8,8.8 9.3,9.3 9.8,9.8 10.3,10.3 10.8,10.7 11.3,11.3 13.8,13.8 14.3,14.4 14.8,14.8 15.3,15.3 15.8,15.8 16.3,16.2 16.8,16.8 17.3,17.3 17.8,17.7"
};
const rockCreek = {
2012:"-0.5,0.8 0.0,1.5 0.4,0.9 1.0,2.1 1.6,3.3 2.0,2.6 2.6,3.9 3.5,1.9 3.9,4.3 4.5,4.8 5.2,5.4 5.8,5.7 6.4,6.6 7.0,7.2 7.6,7.4 8.2,8.5 8.8,9.1 9.3,9.8 9.7,10.4 10.1,10.0 10.5,11.0 10.9,10.7 11.3,11.6 11.7,11.2 12.1,12.2 12.5,11.8 12.9,12.6 13.3,12.9 13.7,14.9",
2013:"-0.8,0.4 -0.4,1.3 0.0,0.7 0.4,1.9 0.8,1.2 1.2,2.5 1.6,1.9 1.9,7.3 2.1,3.0 2.6,2.6 3.2,3.9 3.8,3.4 4.4,4.7 5.0,5.5 5.6,5.3 6.2,6.6 6.8,6.9 7.4,7.5 8.0,8.4 8.6,8.7 9.1,9.6 9.5,10.2 9.9,9.9 10.3,10.8 10.7,10.5 11.1,11.4 11.5,11.2 11.9,12.1 12.3,11.8 12.7,12.7 13.2,13.0 13.7,13.4",
2014:"0.9,2.4 1.4,1.8 1.9,3.2 2.4,2.7 3.0,3.5 3.6,3.1 4.3,4.6 5.0,5.3 5.6,5.9 6.2,6.4 6.8,6.7 7.3,11.4 7.5,7.7 8.1,8.3 8.7,9.0 9.2,9.8 9.6,10.3 10.0,10.0 10.4,10.9 10.8,10.6 11.2,11.4 11.6,11.1 12.0,11.9 12.4,12.2",
2015:"4.1,4.9 4.6,4.4 5.1,5.6 5.6,5.2 6.1,6.4 6.6,6.2 7.1,7.3 7.6,7.6 8.1,8.3 8.6,8.5 9.0,9.4 9.4,9.2 9.8,10.1 10.2,9.9 10.6,10.8 11.0,10.6 11.4,11.5 11.8,11.2 12.2,12.1 12.6,12.4 13.1,13.0 13.6,13.2 14.0,13.6",
2016:"0.1,0.7 0.5,1.9 0.9,1.1 1.4,2.5 1.9,1.8 2.4,3.1 3.2,1.5 3.5,4.0 4.2,4.4 4.9,5.3 5.5,5.9 6.1,6.1 6.7,6.9 7.3,7.7 7.9,7.6 8.5,8.8 9.0,9.5 9.4,9.2 9.8,10.3 10.2,10.0 10.6,11.0 11.0,10.7 11.3,9.1 11.4,11.6 11.8,11.3 12.2,12.1 12.7,12.5",
2017:"-1.0,-0.6 -0.6,0.8 -0.2,0.2 0.3,1.4 0.7,0.8 1.2,2.0 1.7,2.7 2.2,2.2 2.6,3.1 3.5,3.7 4.3,4.6 5.3,6.5 6.5,7.0 7.4,8.0 7.8,8.6 8.2,8.3 8.6,9.1 9.0,8.8 9.4,9.7 9.8,9.5 10.2,10.3 10.6,10.9 11.0,10.6 11.5,11.4",
2018:"-1.0,0.5 -0.8,-1.4 -0.4,1.2 0.0,0.2 0.4,1.7 0.9,1.1 1.4,2.3 1.9,1.8 2.5,3.0 3.2,2.7 3.9,4.1 4.6,4.9 5.3,5.0 6.0,6.3 6.7,6.9 7.4,7.1 8.0,8.2 8.3,11.1 8.6,9.0 9.1,9.6 9.5,9.3 9.9,10.2 10.3,10.0 10.7,10.9 11.0,8.2 11.1,11.3 11.5,11.0 11.9,11.7 12.3,12.1",
2019:"-0.1,-0.4 0.2,1.9 0.7,0.6 1.2,1.3 1.6,2.4 2.0,1.1 2.6,3.0 3.3,3.5 4.0,4.3 4.7,4.5 5.4,5.7 6.1,6.5 6.8,6.6 7.5,7.8 8.3,7.0 8.4,8.7 9.0,9.2 9.5,9.9 9.9,10.4 10.3,10.1 10.7,11.1 11.1,10.8 11.5,11.6 11.9,11.3 12.3,12.2 12.7,12.0 13.1,12.8 13.6,13.1",
2020:"2.9,4.9 3.2,2.8 3.7,4.4 4.3,5.2 4.9,4.8 5.5,5.9 6.1,6.4 6.7,6.3 7.3,7.4 7.9,7.8 8.5,8.7 9.0,9.2 9.4,9.6 9.8,9.9 10.2,10.4 10.6,10.3 11.0,11.1 11.4,11.6 11.8,11.4 12.2,12.4 12.6,12.1 13.0,12.8",
2021:"2.0,3.0 2.7,2.4 3.3,3.8 3.9,4.6 4.5,4.3 5.3,3.7 5.5,5.8 6.2,6.3 6.9,6.7 7.6,7.9 8.3,8.6 8.9,8.8 9.5,9.7 10.0,10.2 10.3,13.6 10.6,10.9 11.0,11.4 11.4,11.1 11.8,12.2 12.2,12.0 12.6,12.8 13.0,12.5 13.1,9.9 13.4,13.3 13.9,13.7 14.9,14.0",
2022:"-0.8,0.2 -0.5,1.3 -0.3,-0.4 0.0,2.2 0.2,0.8 0.5,1.6 0.8,0.2 1.1,2.6 1.5,1.2 2.0,2.4 2.6,2.9 3.2,3.5 3.5,1.6 3.9,4.2 4.6,4.8 5.3,5.5 6.0,6.2 6.7,6.8 7.4,7.5 8.1,8.2 8.8,8.7 9.5,9.7 10.0,10.4 10.4,10.9 10.8,10.6 11.2,11.5 11.6,11.3 12.0,12.2 12.4,12.0 12.8,12.8 13.2,12.6 13.7,13.2",
2023:"-0.6,0.3 -0.4,1.8 -0.2,-0.6 0.0,1.1 0.3,2.4 0.5,0.4 0.8,1.6 1.3,2.0 2.0,2.3 2.7,2.9 3.4,3.7 4.1,4.0 4.8,5.0 5.5,5.4 6.2,6.5 6.9,6.6 7.5,7.8 8.1,8.2 8.7,8.5 9.3,9.5 9.8,9.1 10.3,10.6 10.8,10.4 11.3,11.5 11.8,11.2 12.3,12.4 12.8,12.7 13.3,13.0 13.8,13.5"
};
const rockCreekCore = {
2012:"9.5,10.0 9.9,10.3 10.3,10.5 10.7,11.0 11.1,11.1 11.5,11.5 11.9,11.8 12.3,12.3 12.7,12.4 13.1,13.0",
2013:"-0.6,0.8 -0.2,1.0 0.2,1.3 0.6,1.5 1.0,1.7 1.4,2.2 9.3,9.9 9.7,9.9 10.1,10.4 10.5,10.6 10.9,11.0 11.3,11.3 11.7,11.6 12.1,12.0 12.5,12.3 12.9,12.9",
2014:"9.4,9.9 9.8,10.2 10.2,10.4 10.6,10.8 11.0,11.1 11.4,11.4 11.8,11.6 12.2,12.0",
2015:"9.2,9.3 9.6,9.7 10.0,10.0 10.4,10.4 10.8,10.7 11.2,11.1 11.6,11.5 12.0,11.9 12.4,12.3",
2016:"8.8,9.1 9.2,9.4 9.6,9.7 10.0,10.2 10.4,10.5 10.8,10.8 11.2,11.2 11.6,11.5 12.0,11.8 12.4,12.2",
2017:"7.6,8.3 8.0,8.5 8.4,8.7 8.8,9.0 9.2,9.2 9.6,9.6 10.0,9.9 10.4,10.5 10.8,10.7 11.2,11.1 8.2,8.8 9.0,9.3",
2018:"-0.6,0.4 -0.2,0.8 0.2,0.9 0.6,1.3 1.1,1.6 9.3,9.7 9.7,9.8 10.1,10.4 10.5,10.5 10.9,10.7 11.3,11.2 11.7,11.4 12.1,11.9",
2019:"9.3,9.6 9.7,10.1 10.1,10.3 10.5,10.6 10.9,10.9 11.3,11.3 11.7,11.5 12.1,11.9 12.5,12.4 12.9,12.6 13.3,13.0",
2020:"9.2,9.4 9.6,9.8 10.0,10.2 10.4,10.5 10.8,10.8 11.2,11.2 11.6,11.5 12.0,11.9 12.4,12.2 12.8,12.6",
2021:"11.2,11.6 11.6,11.4 12.0,12.3 12.4,12.4 12.8,12.6 13.2,13.1 13.6,13.4",
2022:"-0.6,0.7 -0.4,0.5 -0.1,0.9 0.1,1.4 0.4,0.9 0.7,1.3 1.0,1.7 10.2,10.6 10.6,10.8 11.0,11.1 11.4,11.4 11.8,11.8 12.2,12.1 12.6,12.4 13.0,12.8 13.4,13.1",
2023:"-0.5,0.8 -0.3,1.2 -0.1,0.4 0.1,0.8 0.2,1.6 0.4,1.1 0.6,0.9 5.0,5.2 6.0,6.1 7.0,7.1 8.0,8.0 9.0,9.1 10.0,10.1 11.0,11.0 12.0,12.0 13.0,12.9"
};
const sfSpreadLower = {
2011:"1.4,4.3 2.4,2.6 3.4,3.4 4.2,4.5 5.4,5.9 5.8,6.6 6.2,6.1 6.6,7.1 7.0,6.7 7.4,7.5 7.9,9.7 8.1,7.9 8.7,8.5 9.3,9.8 9.9,10.3 10.5,10.6 11.1,11.0 11.8,11.4",
2012:"0.9,2.5 1.4,3.1 2.0,2.3 3.4,4.2 3.4,2.6 5.9,5.8 6.3,6.6 6.7,6.2 7.1,7.4 7.6,7.0 8.0,8.2 8.6,9.0 9.2,9.6 9.6,10.5 10.0,10.1 10.4,11.0 10.8,10.7 11.2,11.6 11.6,11.3 12.0,12.3 12.4,12.0 12.8,12.7 13.2,12.3 13.6,13.1 13.9,12.6",
2013:"0.4,1.4 1.0,2.3 1.6,1.8 2.2,3.0 2.8,3.5 3.4,3.1 4.0,4.4 4.7,4.9 5.4,5.6 6.1,6.4 6.7,7.6 7.3,7.2 8.0,8.1 8.6,8.8 9.3,9.7 9.8,10.2 10.3,10.7 10.7,10.4 11.1,11.3 11.5,11.0 11.9,12.0 12.3,12.3 12.7,12.5 13.1,13.0 13.5,13.4 14.0,13.8 14.5,14.2",
2014:"3.1,4.9 3.6,5.5 4.2,4.8 4.8,5.6 5.3,5.3 5.9,6.0 6.5,6.8 7.0,7.4 7.6,10.8 7.6,7.9 8.1,8.6 8.6,8.4 9.0,9.4 9.4,9.1 9.8,10.1 10.2,10.5 10.6,10.2 11.0,11.1 11.4,10.8 11.8,11.9 12.3,12.2",
2016:"1.2,0.4 1.6,1.4 2.4,2.4 3.4,3.3 4.3,4.5 5.0,5.6 5.6,5.3 6.2,6.6 6.8,6.3 7.3,7.6 7.8,7.4 8.4,8.7 9.0,8.8 9.6,9.9 10.1,10.6 10.5,10.3 10.9,11.1 11.3,10.8 11.7,11.8 12.1,11.5 12.5,12.3 12.9,12.1 13.4,12.8",
2017:"-0.4,0.6 0.2,1.2 0.8,1.0 1.4,2.3 2.0,2.0 2.6,3.1 3.2,2.8 3.8,3.9 4.4,4.4 5.0,5.1 5.5,4.9 6.3,8.2 7.4,8.0 7.8,8.6 8.2,8.3 8.6,9.2 9.0,8.9 9.4,9.7 9.8,9.4 10.2,10.1 10.7,10.4",
2018:"6.9,7.6 7.3,8.3 7.7,7.8 8.1,12.7 8.1,8.7 8.5,9.3 8.9,8.9 9.3,9.8 9.7,9.5 10.1,10.3 10.5,10.0 10.9,10.8 11.4,11.2 12.5,8.5",
2019:"1.9,2.3 2.3,3.3 2.7,2.6 3.1,3.9 3.5,3.3 3.9,4.5 4.3,4.0 4.8,5.2 5.4,5.8 6.0,6.1 6.6,6.8 7.2,7.1 7.8,8.0 8.4,8.3 9.0,9.2 9.6,9.7 10.1,10.4 10.5,10.1 10.9,11.2 11.3,11.0 11.7,12.0 12.1,11.7 12.5,12.6 12.9,12.3 13.4,13.2 13.9,13.4",
2020:"1.1,2.2 1.5,1.5 1.9,3.0 2.3,2.4 2.7,3.6 3.1,2.9 3.5,4.2 4.1,4.5 4.7,5.0 5.3,5.6 5.9,6.0 6.5,6.6 7.0,7.3 7.6,7.6 8.2,8.4 8.8,8.7 9.4,9.6 9.9,10.3 10.3,10.9 10.7,10.6 11.1,11.6 11.5,11.3 11.9,12.2 12.3,11.9 12.7,12.7 13.2,12.4 13.6,13.0",
2021:"0.2,1.1 0.6,1.8 1.0,1.4 1.4,2.5 1.8,2.0 2.3,3.0 2.8,2.6 3.3,3.6 3.9,4.4 4.6,6.2 4.6,4.8 5.3,5.4 5.9,6.1 6.5,6.3 7.1,7.4 7.7,7.8 8.2,8.7 8.7,8.5 9.2,9.4 9.7,9.9 10.2,10.3 10.7,10.6 11.2,11.4 11.7,11.1 12.2,12.3 12.7,12.6 13.2,13.2 13.7,13.5 14.3,14.0 14.9,14.3",
2022:"0.2,1.2 0.5,0.4 0.8,2.0 1.1,1.0 1.5,2.4 1.9,1.7 2.3,2.9 2.8,2.5 3.3,3.5 3.9,3.9 4.5,4.4 5.1,5.2 5.7,5.5 6.3,6.5 6.9,6.8 7.5,7.6 8.1,8.3 8.7,8.6 9.3,9.6 9.9,10.0 10.5,10.6 11.0,11.3 11.4,11.0 11.8,12.1 12.2,11.8 12.6,12.6 13.0,12.3 13.5,13.2 14.0,13.6",
2023:"2.1,2.0 2.6,3.4 3.0,4.3 3.4,3.9 3.8,4.7 4.3,4.4 4.9,5.4 5.5,5.8 6.1,6.6 6.7,6.5 7.3,7.4 7.9,8.0 8.5,8.3 9.1,9.3 9.7,9.9 10.2,10.5 10.7,10.9 11.2,11.5 11.7,11.4 12.2,12.3 12.7,12.6 13.2,13.1 13.7,13.4"
};
const sfSpreadLowerCore = {
2011:"5.6,6.2 6.0,6.4 6.4,6.7 6.8,6.9 7.2,7.2 7.6,7.7",
2012:"6.1,6.2 6.5,6.5 6.9,6.9 7.3,7.2 9.4,10.0 9.8,10.3 10.2,10.6 10.6,10.9 11.0,11.1 11.4,11.4 11.8,11.8 12.2,12.1 12.6,12.4 13.0,12.6",
2013:"9.6,10.0 10.0,10.4 10.5,10.5 10.9,10.9 11.3,11.2 11.7,11.6 12.1,12.1 12.5,12.4 12.9,12.8 13.3,13.1 13.8,13.6",
2014:"7.3,7.7 7.8,8.2 8.3,8.5 8.8,9.0 9.2,9.3 9.6,9.6 10.0,10.2 10.4,10.4 10.8,10.7 11.2,11.0 11.6,11.4",
2016:"10.0,10.3 10.3,10.5 10.7,10.8 11.1,10.9 11.5,11.4 11.9,11.6 12.3,12.0 12.7,12.4",
2017:"7.6,8.3 8.0,8.4 8.4,8.8 8.8,9.0 9.2,9.3 9.6,9.6 10.0,9.9 10.4,10.3 8.6,8.7 9.4,9.4",
2018:"7.5,8.1 7.9,8.3 8.3,8.8 8.7,9.0 9.1,9.3 9.5,9.6 9.9,9.9 10.3,10.2 10.7,10.5 11.1,10.9",
2019:"2.1,2.8 2.5,3.0 2.9,3.3 3.3,3.6 3.7,3.9 4.1,4.3 4.5,4.7 10.3,10.7 10.7,10.8 11.1,11.4 11.5,11.4 11.9,11.9 12.3,12.1 12.7,12.5 13.1,12.8",
2020:"1.3,1.9 1.7,2.2 2.1,2.6 2.5,3.0 2.9,3.3 3.3,3.5 10.1,10.6 10.5,10.8 10.9,11.1 11.3,11.5 11.7,11.8 12.1,12.1 12.5,12.4 12.9,12.7 13.4,12.8",
2021:"0.4,1.5 0.8,1.6 1.2,2.0 1.6,2.2 2.0,2.5 2.5,2.8 3.0,3.2 8.4,8.6 8.9,9.0 9.4,9.6 9.9,10.1 10.4,10.5 10.9,10.9 11.4,11.2 11.9,11.9 12.4,12.4 12.9,12.8 13.4,13.4 14.0,13.8 14.6,14.2",
2022:"0.3,0.8 0.6,1.3 0.9,1.4 1.2,1.7 1.6,1.9 2.0,2.2 11.2,11.6 11.6,11.5 12.0,12.0 12.4,12.2 12.8,12.5 13.2,12.8 13.7,13.4 4.8,4.8 5.4,5.4 6.0,6.0 6.6,6.7 7.2,7.2 7.8,7.9 8.4,8.4 9.0,9.1 9.6,9.8 10.2,10.3",
2023:"2.8,3.8 3.2,4.0 3.6,4.3 4.0,4.5 10.0,10.2 10.5,10.7 11.0,11.2 11.5,11.5 12.0,12.0 12.5,12.5 13.0,12.9 13.5,13.3"
};
const sfSpreadUpper = {
2018:"1.4,2.8 1.9,1.8 2.5,2.6 3.2,3.5 3.9,4.1 4.6,4.8 5.3,5.3 6.0,6.4 6.6,6.2 7.2,7.5 7.7,8.2 8.2,8.0 8.7,9.0 9.1,12.3 9.2,9.5 9.6,9.3 10.0,10.2 10.4,10.5 10.8,10.3 11.2,11.0 11.7,11.4",
2019:"-0.3,-0.2 0.0,1.6 0.4,0.7 0.8,2.0 1.3,1.5 1.8,2.6 2.4,2.8 3.2,2.3 3.6,3.9 4.3,4.8 5.0,5.2 5.7,5.9 6.4,6.6 7.0,7.1 7.6,7.8 8.1,8.6 8.6,9.1 9.0,8.8 9.4,9.8 9.8,9.5 10.2,10.5 10.6,10.3 11.0,11.2 11.4,10.9 11.9,11.7 12.4,12.0",
2020:"4.0,3.3 4.1,6.0 4.8,4.6 5.4,5.6 6.0,6.2 6.6,6.4 7.2,7.3 7.9,10.3 7.9,8.0 8.5,8.7 8.9,9.2 9.3,9.0 9.4,6.4 9.7,9.9 10.1,10.4 10.5,10.2 10.9,11.0 11.3,10.8 11.7,11.6 12.1,11.9",
2021:"1.4,2.1 2.3,3.7 3.0,2.6 3.8,4.0 4.5,4.7 5.2,5.4 5.9,5.8 6.6,6.9 7.3,7.3 8.0,8.4 8.6,9.0 9.0,9.6 9.4,9.3 9.8,10.3 10.2,10.0 10.4,16.6 10.6,11.0 11.0,10.7 11.4,11.6 11.8,11.4 12.2,12.3 12.6,12.0 13.1,12.8 13.6,13.1 16.8,12.2",
2022:"5.7,7.1 6.4,6.5 7.0,7.4 7.5,7.2 8.0,8.2 8.5,8.5 8.9,9.1 9.3,9.6 9.7,9.4 10.1,10.3 10.5,10.8 10.9,10.6 11.3,11.3 11.7,11.0 12.1,12.0 12.6,12.4 13.1,12.9",
2023:"5.0,6.8 5.6,6.2 6.2,6.9 6.8,7.0 7.4,7.6 7.9,8.3 8.4,8.7 8.5,13.3 8.9,9.2 9.3,9.0 9.7,9.9 10.1,10.3 10.5,10.6 10.9,10.9 11.3,11.4 11.7,11.2 12.1,12.1 12.6,12.5 13.0,12.8 13.7,9.5"
};
const sfSpreadUpperCore = {
2018:"7.4,7.9 7.9,8.1 8.4,8.6 8.9,9.0 9.4,9.4 9.8,9.8 10.2,10.3 10.6,10.6 11.0,10.8 11.5,11.2",
2019:"8.3,8.8 8.8,9.0 9.2,9.4 9.6,9.7 10.0,10.0 10.4,10.4 10.8,10.7 11.2,11.0 11.6,11.5 12.1,11.9",
2020:"8.7,8.9 9.1,9.2 9.5,9.6 9.9,10.1 10.3,10.3 10.7,10.7 11.1,10.9 11.5,11.4 11.9,11.8",
2021:"8.8,9.3 9.2,9.4 9.6,9.8 10.0,10.1 10.4,10.5 10.8,10.9 11.2,11.2 11.6,11.5 12.0,11.9 12.4,12.2 12.8,12.5 13.3,12.9",
2022:"7.3,7.5 7.7,7.8 8.2,8.3 8.6,8.8 9.0,9.2 9.4,9.4 9.8,9.9 10.2,10.3 10.6,10.6 11.0,10.9 11.4,11.3 11.8,11.6 12.2,12.1 12.8,12.6",
2023:"8.6,9.0 9.0,9.0 9.4,9.5 9.8,9.8 10.2,10.1 10.6,10.6 11.0,11.0 11.4,11.2 11.8,11.8 12.3,12.2 12.8,12.6"
};
const spreadCreekDam = {
2012:"-0.3,0.3 0.2,1.2 0.7,0.8 1.2,1.7 1.8,2.2 2.4,2.7 3.0,2.4 3.6,3.3 4.2,3.0 4.8,3.7 6.2,7.0 7.0,8.2 7.5,8.7 8.0,8.4 8.5,9.1 9.2,9.7 9.9,10.5 10.6,11.5 11.2,12.2 11.7,12.9 12.2,13.3 12.6,13.8 13.0,13.5 13.4,14.2 13.8,13.9 14.2,14.6 14.6,14.1 15.0,15.2 15.5,14.6 16.1,16.3",
2013:"0.2,1.3 0.5,0.5 0.9,1.9 1.3,1.2 1.7,2.5 2.2,2.1 2.7,3.3 3.3,3.9 3.9,4.6 4.5,4.3 5.1,5.8 5.7,5.4 6.3,6.9 6.6,10.0 6.9,7.5 7.5,7.3 8.1,8.5 8.7,8.9 9.3,9.6 9.9,10.1 10.5,11.0 11.1,11.5 11.7,12.2 12.2,13.0 12.7,13.5 13.2,13.2 13.6,14.0 14.0,14.6 14.4,14.3 14.8,15.1 15.2,15.6 15.7,15.3 16.2,16.1 16.8,16.7",
2014:"2.3,4.3 3.0,3.4 3.7,4.7 4.4,4.4 5.1,5.6 5.8,6.3 6.5,6.9 7.2,7.6 7.8,8.2 8.4,8.6 9.0,9.4 9.6,12.4 9.6,10.0 10.1,10.6 10.6,10.9 11.1,11.5 11.6,11.9 12.1,12.4 12.6,12.2 13.1,13.0 13.6,13.4 14.1,13.9 14.6,14.2",
2015:"0.6,1.8 1.5,2.3 2.1,3.0 2.8,3.3 3.5,3.7 4.2,4.6 4.9,5.4 5.6,6.0 6.3,6.6 7.0,7.2 7.7,7.8 8.4,8.7 9.1,9.3 9.7,9.8 10.3,10.5 10.8,11.0 11.3,11.5 11.8,11.8 12.3,12.4 12.8,12.6 13.3,13.3 13.8,13.6 14.3,14.0 14.9,14.3",
2016:"-0.3,0.3 0.1,1.2 0.5,0.6 0.9,1.8 1.3,1.2 1.7,2.4 2.1,1.7 2.5,3.0 2.7,7.9 3.0,2.6 3.6,3.8 4.2,4.4 4.8,5.0 5.4,5.5 6.0,6.3 6.6,6.9 7.2,7.3 7.8,8.1 8.4,8.6 9.0,9.3 9.6,9.8 10.2,10.4 10.8,11.2 11.3,11.8 11.8,12.2 12.3,12.7 12.8,12.5 13.3,13.3 13.8,13.9 14.3,14.2 14.8,14.8 15.3,15.0",
2018:"1.1,1.8 1.8,2.6 2.3,3.6 3.0,2.9 3.6,3.9 4.5,4.6 5.3,5.8 6.1,6.3 6.9,7.0 7.6,7.8 8.3,8.4 9.0,9.2 9.7,9.9 10.3,10.6 10.9,11.2 11.5,12.0 12.0,12.5 12.5,12.9 13.0,10.8 13.0,13.3 13.5,13.8 14.0,14.1 14.5,14.5",
2019:"0.6,1.2 1.2,2.4 1.8,0.9 2.4,3.0 3.0,2.2 3.6,3.6 4.3,4.5 5.1,3.8 5.4,6.0 6.0,6.5 6.6,6.2 7.2,7.9 7.8,7.4 8.4,8.8 9.0,8.4 9.6,10.0 10.2,10.7 10.7,10.4 11.2,11.6 11.7,11.3 12.2,12.4 12.7,12.0 13.2,13.3 13.7,12.8 14.2,14.1 14.7,14.4 15.3,15.0",
2021:"1.0,2.0 2.1,3.2 3.6,4.4 5.3,5.8 6.0,6.5 6.7,6.4 7.4,7.9 8.1,8.5 8.8,9.2 9.5,9.9 10.1,10.5 10.7,11.0 11.3,11.8 11.9,12.5 12.4,12.8 12.9,13.5 13.4,13.2 13.6,16.8 13.9,14.3 14.4,14.8 14.9,14.5 15.4,15.5 15.9,16.0 16.1,13.3 16.5,16.4 17.0,16.8",
2022:"7.8,9.2 8.3,8.3 8.8,9.0 9.3,7.6 9.3,9.8 9.8,9.5 10.3,10.6 10.8,10.9 11.3,11.2 11.8,11.9 12.3,12.4 12.8,13.2 13.2,13.6 13.6,14.2 14.0,13.8 14.4,14.7 14.8,14.4 15.2,15.3 15.6,15.0 16.0,16.0 16.5,16.4 17.0,16.9",
2023:"6.1,7.6 6.8,7.1 7.5,8.0 8.2,8.0 8.9,9.2 9.6,9.7 10.3,10.7 10.9,11.3 11.4,12.0 11.9,12.6 12.4,12.8 12.9,13.5 13.4,13.3 13.9,14.2 14.4,14.8 14.9,14.6 15.4,15.5 15.9,15.8 16.4,16.1 16.9,16.6"
};
const spreadCreekDamCore = {
2012:"12.4,13.0 12.8,13.2 13.2,13.6 13.6,13.8 14.0,14.2 14.4,14.4 14.8,14.7 15.2,15.0 7.3,8.2 7.7,8.5 8.2,8.7",
2013:"0.4,1.0 0.7,1.3 1.0,1.5 1.4,1.8 1.9,2.2 12.4,13.0 12.9,13.2 13.4,13.7 13.8,14.1 14.2,14.4 14.6,14.8 15.0,15.2 15.4,15.3 15.9,15.7",
2014:"10.0,10.6 10.4,10.7 10.8,11.2 11.3,11.6 11.8,12.0 12.3,12.3 12.8,12.8 13.3,13.1 13.8,13.7",
2015:"10.6,10.8 11.0,11.2 11.5,11.6 12.0,12.1 12.5,12.4 13.0,12.9 13.5,13.4 14.0,13.9 14.5,14.2",
2016:"-0.1,0.8 0.3,0.9 0.7,1.2 1.1,1.5 1.5,1.8 1.9,2.1 2.3,2.4 11.2,11.6 11.6,11.9 12.0,12.2 12.5,12.5 13.0,13.0 13.5,13.5 14.0,14.0 14.5,14.4 15.0,14.8",
2018:"11.7,12.1 12.2,12.4 12.7,12.8 13.2,13.3 13.7,13.7 14.2,14.2",
2019:"10.8,11.0 11.3,11.4 11.8,11.8 12.3,12.2 12.8,12.7 13.3,13.0 13.8,13.6 14.3,14.0",
2021:"12.2,13.0 12.7,13.1 13.1,13.4 13.6,13.8 14.1,14.4 14.6,14.6 15.1,15.0 15.6,15.6 16.1,16.1 16.7,16.6",
2022:"12.6,13.0 13.0,13.4 13.4,13.7 13.8,14.0 14.2,14.4 14.6,14.6 15.0,15.0 15.4,15.3 15.8,15.7 16.3,16.2",
2023:"11.6,12.2 12.1,12.5 12.6,13.0 13.1,13.4 13.6,13.7 14.1,14.4 14.6,14.6 15.1,15.0 15.6,15.6 16.1,16.0"
};
const siteSeries = [grizzlyCreek, grouseCreek, leidyCreekMouth, leidyCreekUpper, nfSpreadLower, nfSpreadUpper, creekAtMoran, rockCreek, sfSpreadLower, sfSpreadUpper, spreadCreekDam];
const siteCores = [grizzlyCreekCore, grouseCreekCore, leidyCreekMouthCore, leidyCreekUpperCore, nfSpreadLowerCore, nfSpreadUpperCore, creekAtMoranCore, rockCreekCore, sfSpreadLowerCore, sfSpreadUpperCore, spreadCreekDamCore];

// ---- layout ----
const W = 1920, H = 1920;
const panelLeft0 = 89.3, panelPitchX = 162.2, panelW = 146.8;
const panelTop0 = 60, panelPitchY = 127.7, panelH = 113.5;
const stripTop = 14.3, stripRightW = 46;
const fontSize = 22.6;

const svg = d3.select("#chart");
svg.append("rect").attr("width", W).attr("height", H).attr("fill", "#fff");

const x = d3.scaleLinear().domain([-1.77, 19.1]).range([0, panelW]);
const y = d3.scaleLinear().domain([-2.44, 18.9]).range([panelH, 0]);
const colX = d3.scaleLinear().domain([0, 1]).range([panelLeft0, panelLeft0 + panelPitchX]);
const rowY = d3.scaleLinear().domain([0, 1]).range([panelTop0, panelTop0 + panelPitchY]);

const defs = svg.append("defs");
defs.append("clipPath").attr("id", "panelClip").append("rect").attr("width", panelW).attr("height", panelH);
defs.append("clipPath").attr("id", "stripClip").append("rect").attr("y", stripTop - panelTop0).attr("width", panelW).attr("height", panelTop0 - stripTop);

function parsePts(s) {
  if (!s) return [];
  return s.trim().split(/\s+/).map(p => { const [o, q] = p.split(",").map(Number); return {obs: o, pred: q}; });
}

const lastRow = years.length - 1;

sites.forEach((site, ci) => {
  const px = colX(ci);
  // top strip: label centred and cut at the strip edges, as in the reference
  const sg = svg.append("g").attr("transform", `translate(${px},${panelTop0})`);
  sg.append("rect").attr("y", stripTop - panelTop0).attr("width", panelW).attr("height", panelTop0 - stripTop)
    .attr("fill", "#D9D9D9").attr("stroke", "#333333").attr("stroke-width", 1.1);
  const t = sg.append("g").attr("clip-path", "url(#stripClip)")
    .append("text").attr("x", panelW / 2).attr("y", (stripTop - panelTop0) / 2)
    .attr("text-anchor", "middle").attr("dominant-baseline", "central")
    .attr("font-size", fontSize).attr("fill", "#1A1A1A").text(site);
  const node = t.node();
  const n = site.length;
  let first = -1, last = -1, startX = 0;
  for (let i = 0; i < n; i++) {
    const a = node.getStartPositionOfChar(i).x, b = node.getEndPositionOfChar(i).x;
    const vis = b > a ? (Math.min(b, panelW) - Math.max(a, 0)) / (b - a) : 1;
    if (vis >= 0.12) { if (first < 0) { first = i; startX = a; } last = i; }
  }
  if (first > 0 || last < n - 1) {
    t.attr("text-anchor", "start").attr("x", startX).text(site.slice(first, last + 1));
  }

  years.forEach((yr, ri) => {
    const py = rowY(ri);
    const g = svg.append("g").attr("transform", `translate(${px},${py})`);
    g.append("rect").attr("width", panelW).attr("height", panelH).attr("fill", "#fff");
    const inner = g.append("g").attr("clip-path", "url(#panelClip)");
    const pts = parsePts(siteSeries[ci][yr]).concat(parsePts(siteCores[ci][yr]));
    if (pts.length) {
      inner.selectAll("circle").data(pts).join("circle")
        .attr("cx", d => x(d.obs)).attr("cy", d => y(d.pred)).attr("r", 4.7)
        .attr("fill", "#000").attr("fill-opacity", 0.19)
        .attr("stroke", "#000").attr("stroke-opacity", 0.2).attr("stroke-width", 1);
    }
    inner.append("line")
      .attr("x1", x(-5)).attr("y1", y(-5)).attr("x2", x(25)).attr("y2", y(25))
      .attr("stroke", "#FF0000").attr("stroke-width", 1.5);
    g.append("rect").attr("width", panelW).attr("height", panelH)
      .attr("fill", "none").attr("stroke", "#333333").attr("stroke-width", 1.1);

    if (ci === 0) {
      const ay = g.append("g").call(d3.axisLeft(y).tickValues(yTicks).tickSize(7).tickPadding(5));
      ay.select(".domain").remove();
      ay.selectAll("line").attr("stroke", "#333333").attr("stroke-width", 1.1);
      ay.selectAll("text").attr("font-size", fontSize).attr("fill", "#4D4D4D").attr("font-family", null);
    }
    if (ri === lastRow) {
      const ax = g.append("g").attr("transform", `translate(0,${panelH})`)
        .call(d3.axisBottom(x).tickValues(xTicks).tickSize(7).tickPadding(5));
      ax.select(".domain").remove();
      ax.selectAll("line").attr("stroke", "#333333").attr("stroke-width", 1.1);
      ax.selectAll("text").attr("font-size", fontSize).attr("fill", "#4D4D4D").attr("font-family", null);
    }
    if (ci === sites.length - 1) {
      const rg = svg.append("g").attr("transform", `translate(${px + panelW},${py})`);
      rg.append("rect").attr("width", stripRightW).attr("height", panelH)
        .attr("fill", "#D9D9D9").attr("stroke", "#333333").attr("stroke-width", 1.1);
      rg.append("text").attr("transform", `translate(${stripRightW / 2},${panelH / 2}) rotate(90)`)
        .attr("text-anchor", "middle").attr("dominant-baseline", "central")
        .attr("font-size", fontSize).attr("fill", "#1A1A1A").text(yr);
    }
  });
});

const gridLeft = panelLeft0, gridRight = colX(sites.length - 1) + panelW;
const gridTop = panelTop0, gridBottom = rowY(lastRow) + panelH;
svg.append("text").attr("x", (gridLeft + gridRight) / 2).attr("y", 1889)
  .attr("text-anchor", "middle").attr("dominant-baseline", "central")
  .attr("font-size", 28).attr("fill", "#000").text(xTitle);
svg.append("text").attr("transform", `translate(27,${(gridTop + gridBottom) / 2}) rotate(-90)`)
  .attr("text-anchor", "middle").attr("dominant-baseline", "central")
  .attr("font-size", 28).attr("fill", "#000").text(yTitle);
</script></body></html>
